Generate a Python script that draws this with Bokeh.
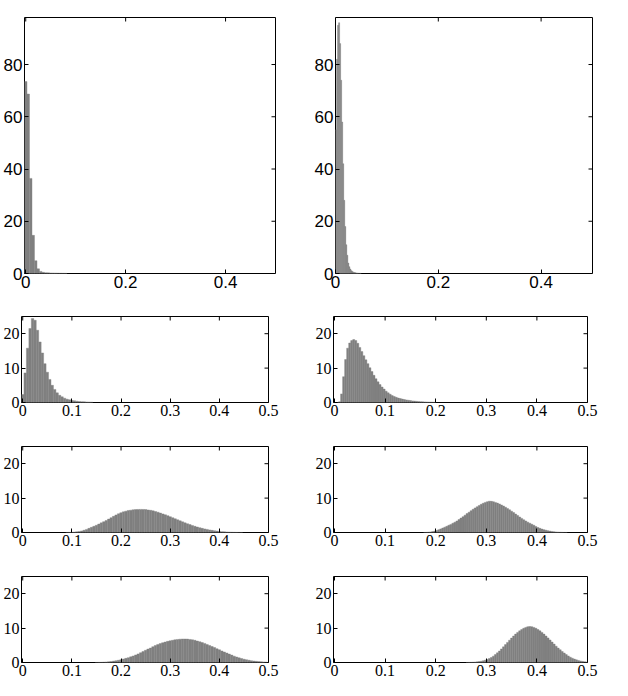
from bokeh.plotting import figure
from bokeh.layouts import column, row
from bokeh.models import FixedTicker, Range1d
from bokeh.embed import file_html
from bokeh.resources import INLINE
import numpy as np

# ---------------- data ----------------
# panel A: top-left, bin width 0.005, first bin centre 0
a_start, a_width = 0.0, 0.005
a_vals = [73.5, 68.7, 36.4, 14.6, 4.9, 1.8, 0.8, 0.45, 0.3, 0.25, 0.2, 0.18,
          0.15, 0.12, 0.1, 0.08, 0.06]

# panel B: top-right, bin width 0.002
b_start, b_width = 0.001, 0.002
b_vals = [55, 82, 95, 96, 88, 74, 58, 42, 28, 18, 11, 7, 4, 2.6, 1.7, 1.1,
          0.8, 0.5, 0.4, 0.3, 0.2, 0.15, 0.1, 0.08, 0.05]

# panel C: row 2 left, bin width 0.005
c_start, c_width = 0.0, 0.005
c_vals = [2.3, 8.6, 15.8, 21.5, 24.4, 23.9, 21.0, 17.6, 14.4, 11.3, 8.8, 6.7,
          5.0, 3.8, 2.8, 2.1, 1.65, 1.26, 0.97, 0.78, 0.58, 0.49, 0.39, 0.3,
          0.25, 0.2, 0.15, 0.12, 0.1]

# panel D: row 2 right, bin width 0.004
d_start, d_width = 0.002, 0.004
d_vals = [0, 0, 0.2, 2.5, 7.5, 12.5, 15.8, 17.3, 18.0, 18.3, 18.0, 17.2, 16.0,
          14.8, 13.6, 12.4, 11.3, 10.1, 9.0, 7.9, 6.9, 6.0, 5.2, 4.5, 3.9, 3.3,
          2.8, 2.4, 2.0, 1.75, 1.5, 1.3, 1.15, 1.0, 0.85, 0.75, 0.65, 0.55,
          0.47, 0.4, 0.34, 0.3, 0.25, 0.21, 0.18, 0.15, 0.12, 0.1, 0.08, 0.06]

# panel E: row 3 left, bin width 0.005
e_start, e_width = 0.09, 0.005
e_vals = [0.02, 0.04, 0.08, 0.12, 0.2, 0.3, 0.45, 0.65, 0.9, 1.2, 1.5, 1.8,
          2.1, 2.45, 2.8, 3.15, 3.5, 3.9, 4.3, 4.7, 5.1, 5.45, 5.75, 6.0, 6.2,
          6.4, 6.5, 6.6, 6.65, 6.7, 6.72, 6.7, 6.65, 6.55, 6.45, 6.3, 6.1, 5.9,
          5.65, 5.4, 5.15, 4.9, 4.6, 4.3, 4.0, 3.7, 3.4, 3.1, 2.8, 2.55, 2.3,
          2.05, 1.8, 1.6, 1.4, 1.2, 1.05, 0.9, 0.75, 0.62, 0.5, 0.4, 0.32, 0.25,
          0.2, 0.15, 0.11, 0.08, 0.06, 0.04, 0.03, 0.02]

# panel F: row 3 right, bin width 0.004
f_start, f_width = 0.178, 0.004
f_vals = [0.02, 0.05, 0.1, 0.17, 0.27, 0.4, 0.58, 0.8, 1.05, 1.3, 1.55, 1.8,
          2.1, 2.35, 2.7, 3.0, 3.35, 3.75, 4.2, 4.6, 5.05, 5.5, 5.9, 6.35, 6.75,
          7.15, 7.5, 7.85, 8.2, 8.5, 8.75, 8.95, 9.1, 9.05, 8.95, 8.75, 8.55,
          8.3, 8.0, 7.7, 7.35, 7.0, 6.6, 6.2, 5.8, 5.35, 4.95, 4.5, 4.1, 3.7,
          3.35, 3.0, 2.7, 2.4, 2.1, 1.75, 1.45, 1.2, 1.0, 0.82, 0.66, 0.52, 0.4,
          0.3, 0.22, 0.16, 0.11, 0.08, 0.05, 0.03, 0.02]

# panel G: row 4 left, bin width 0.005
g_start, g_width = 0.15, 0.005
g_vals = [0.02, 0.04, 0.06, 0.1, 0.15, 0.22, 0.3, 0.4, 0.52, 0.65, 0.8, 1.0,
          1.2, 1.4, 1.65, 1.9, 2.2, 2.5, 2.85, 3.2, 3.55, 3.9, 4.2, 4.6, 4.95,
          5.25, 5.5, 5.75, 5.95, 6.15, 6.3, 6.45, 6.6, 6.7, 6.78, 6.82, 6.82,
          6.8, 6.7, 6.6, 6.45, 6.25, 6.05, 5.8, 5.55, 5.25, 4.95, 4.65, 4.35,
          4.0, 3.7, 3.35, 3.05, 2.75, 2.45, 2.15, 1.85, 1.6, 1.35, 1.15, 0.95,
          0.8, 0.65, 0.52, 0.42, 0.34, 0.27, 0.21, 0.16, 0.12]

# panel H: row 4 right, bin width 0.004
h_start, h_width = 0.262, 0.004
h_vals = [0.02, 0.04, 0.06, 0.09, 0.13, 0.19, 0.27, 0.37, 0.5, 0.67, 0.88,
          1.15, 1.45, 1.85, 2.3, 2.8, 3.35, 3.95, 4.55, 5.2, 5.85, 6.5, 7.1,
          7.7, 8.25, 8.75, 9.2, 9.6, 9.95, 10.2, 10.4, 10.45, 10.4, 10.2, 9.95,
          9.6, 9.2, 8.75, 8.25, 7.7, 7.15, 6.55, 5.95, 5.35, 4.75, 4.2, 3.7,
          3.2, 2.75, 2.3, 1.9, 1.55, 1.25, 1.0, 0.78, 0.6, 0.45, 0.33, 0.24,
          0.17]

top_xticks = [0, 0.2, 0.4]
top_yticks = [0, 20, 40, 60, 80]
small_xticks = [0, 0.1, 0.2, 0.3, 0.4, 0.5]
small_yticks = [0, 10, 20]

BAR = "#808080"
TICK_PX = 4


def panel(start, width, vals, xr, yr, xt, yt, fw, fh, bl, br, bt, bb, font, fsize):
    p = figure(frame_width=fw, frame_height=fh, output_backend="svg",
               toolbar_location=None, x_range=Range1d(*xr), y_range=Range1d(*yr),
               min_border_left=bl, min_border_right=br, min_border_top=bt,
               min_border_bottom=bb)
    p.grid.visible = False
    p.outline_line_color = "black"
    p.outline_line_width = 1
    p.background_fill_color = "white"
    p.border_fill_color = "white"

    centers = start + width * np.arange(len(vals))
    p.vbar(x=centers, width=width, top=vals, bottom=0,
           fill_color=BAR, line_color=BAR, line_width=0.4)

    # left / bottom axes with inward ticks
    for ax, ticks in ((p.xaxis[0], xt), (p.yaxis[0], yt)):
        ax.ticker = FixedTicker(ticks=ticks, minor_ticks=[])
        ax.major_tick_in = TICK_PX
        ax.major_tick_out = 0
        ax.minor_tick_line_color = None
        ax.major_tick_line_color = "black"
        ax.axis_line_color = None
        ax.major_label_text_font = font
        ax.major_label_text_font_size = fsize
        ax.major_label_text_color = "black"
        ax.major_label_standoff = 2

    # mirrored inward ticks on top and right edges
    dy = TICK_PX * (yr[1] - yr[0]) / fh
    dx = TICK_PX * (xr[1] - xr[0]) / fw
    xt_a = np.array(xt, dtype=float)
    yt_a = np.array(yt, dtype=float)
    p.segment(x0=xt_a, y0=[yr[1]] * len(xt), x1=xt_a, y1=[yr[1] - dy] * len(xt),
              line_color="black", line_width=1)
    p.segment(x0=[xr[1]] * len(yt), y0=yt_a, x1=[xr[1] - dx] * len(yt), y1=yt_a,
              line_color="black", line_width=1)
    return p


TOPF = "Liberation Sans"
SMF = "Liberation Sans Narrow"

pA = panel(a_start, a_width, a_vals, (-0.0025, 0.5), (0, 98), top_xticks, top_yticks,
           251, 256, 21, 36, 17, 30, TOPF, "17px")
pB = panel(b_start, b_width, b_vals, (0, 0.5), (0, 98), top_xticks, top_yticks,
           257, 256, 23, 24, 17, 30, TOPF, "17px")

small = [(c_start, c_width, c_vals, d_start, d_width, d_vals, 31),
         (e_start, e_width, e_vals, f_start, f_width, f_vals, 31),
         (g_start, g_width, g_vals, h_start, h_width, h_vals, 26)]
layout_rows = [row(pA, pB)]
for (s1, w1, v1, s2, w2, v2, bb) in small:
    pl = panel(s1, w1, v1, (-0.0025, 0.5), (0, 25), small_xticks, small_yticks,
               247, 86, 17, 44, 13, bb, SMF, "16px")
    pr = panel(s2, w2, v2, (-0.002, 0.5), (0, 25), small_xticks, small_yticks,
               254, 86, 17, 33, 13, bb, SMF, "16px")
    layout_rows.append(row(pl, pr))

lay = column(*layout_rows)
open("out.html", "w").write(file_html(lay, INLINE))
